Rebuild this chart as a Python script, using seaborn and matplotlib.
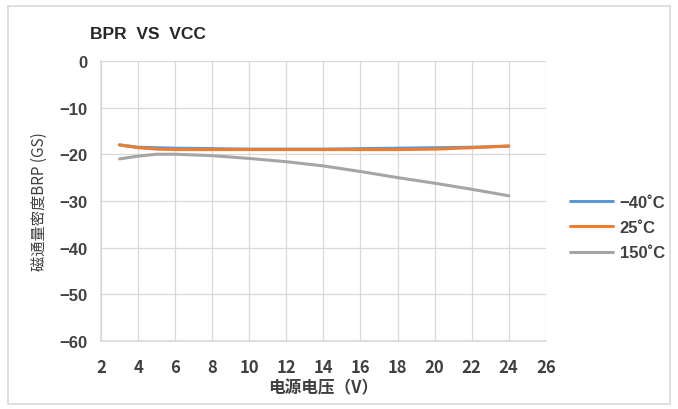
import pandas as pd
import matplotlib.pyplot as plt
import seaborn as sns
from matplotlib.patches import Rectangle

sns.set_theme(style="whitegrid")
plt.rcParams['font.family'] = ['Noto Sans CJK SC', 'DejaVu Sans']
plt.rcParams['axes.unicode_minus'] = True

# data
vcc = [3, 4, 5, 6, 8, 10, 12, 14, 16, 18, 20, 22, 24]
brp_m40 = [-18.0, -18.5, -18.6, -18.7, -18.8, -18.9, -18.9, -18.9, -18.8, -18.7, -18.6, -18.5, -18.3]
brp_25 = [-18.0, -18.6, -18.9, -19.0, -19.0, -19.0, -19.0, -19.0, -19.0, -19.0, -18.9, -18.6, -18.2]
brp_150 = [-21.0, -20.4, -20.0, -20.0, -20.3, -20.9, -21.6, -22.5, -23.7, -25.0, -26.2, -27.5, -28.9]
series_names = ['−40˚C', '25˚C', '150˚C']
colors = ['#5b9bd5', '#ed7d31', '#a5a5a5']

df = pd.DataFrame({'vcc': vcc, series_names[0]: brp_m40,
                   series_names[1]: brp_25, series_names[2]: brp_150})
long = df.melt(id_vars='vcc', var_name='temp', value_name='brp')

fig = plt.figure(figsize=(6.78, 4.10), dpi=100)
ax = fig.add_axes([0.149, 0.166, 0.656, 0.683])

sns.lineplot(data=long, x='vcc', y='brp', hue='temp', hue_order=series_names,
             palette=colors, linewidth=2.2, ax=ax)

ax.set_xlim(2, 26)
ax.set_ylim(-60, 0)
ax.set_xticks(range(2, 27, 2))
ax.set_yticks(range(-60, 1, 10))
ax.grid(True, color='#d9d9d9', linewidth=0.9)
for s in ['top', 'right']:
    ax.spines[s].set_visible(False)
for s in ['left', 'bottom']:
    ax.spines[s].set_color('#d9d9d9')
    ax.spines[s].set_linewidth(1.2)
ax.tick_params(axis='both', length=0, colors='#404040')
ax.tick_params(axis='x', pad=12, labelsize=12)
ax.tick_params(axis='y', pad=10, labelsize=12)
for lab in ax.get_xticklabels():
    lab.set_fontweight('bold')
for lab in ax.get_yticklabels():
    lab.set_fontweight('bold')
    lab.set_family(['Liberation Sans', 'DejaVu Sans'])
ax.set_xlabel('电源电压（V）', fontsize=12, fontweight='bold', color='#404040', labelpad=2)
ax.set_ylabel('磁通量密度BRP (GS)', fontsize=11, color='#404040', labelpad=8)

leg = ax.legend(loc='center left', bbox_to_anchor=(1.02, 0.405), frameon=False,
                handlelength=2.6, handletextpad=0.4, labelspacing=0.62,
                prop={'family': ['Liberation Sans', 'DejaVu Sans'], 'size': 12, 'weight': 'bold'})
for t in leg.get_texts():
    t.set_color('#404040')

fig.text(0.133, 0.905, 'BPR  VS  VCC', fontsize=12.5, fontweight='bold',
         color='#262626', family=['Liberation Sans', 'DejaVu Sans'])

fig.patches.append(Rectangle((0.012, 0.012), 0.976, 0.97, transform=fig.transFigure,
                             fill=False, edgecolor='#d9d9d9', linewidth=1.2))

fig.savefig('out.png', dpi=100)
